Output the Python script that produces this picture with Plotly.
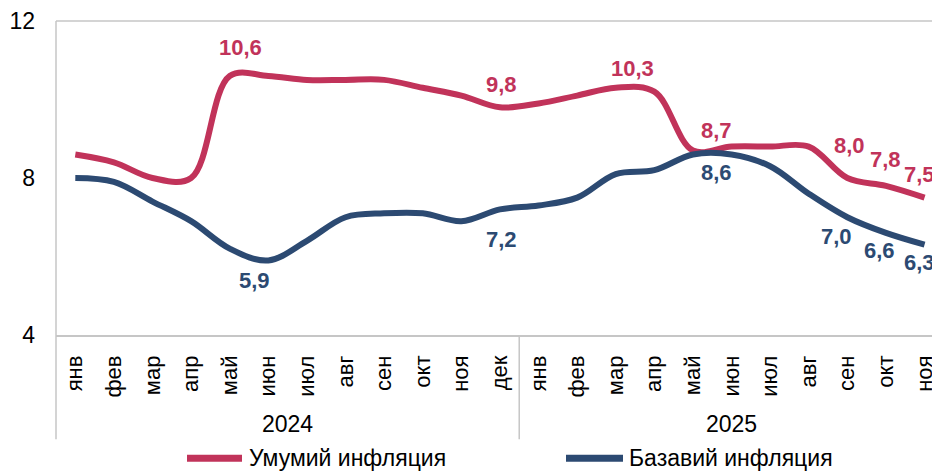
import plotly.graph_objects as go

months = ["янв", "фев", "мар", "апр", "май", "июн", "июл", "авг", "сен", "окт", "ноя", "дек",
          "янв", "фев", "мар", "апр", "май", "июн", "июл", "авг", "сен", "окт", "ноя"]
years = ["2024", "2025"]
year_spans = [(0, 11), (12, 22)]

headline = [8.6, 8.4, 8.0, 8.0, 10.6, 10.6, 10.5, 10.5, 10.5, 10.3, 10.1, 9.8,
            9.9, 10.1, 10.3, 10.2, 8.7, 8.8, 8.8, 8.8, 8.0, 7.8, 7.5]
core = [8.0, 7.9, 7.4, 6.9, 6.2, 5.9, 6.4, 7.0, 7.1, 7.1, 6.9, 7.2,
        7.3, 7.5, 8.1, 8.2, 8.6, 8.6, 8.3, 7.6, 7.0, 6.6, 6.3]

series_names = ["Умумий инфляция", "Базавий инфляция"]
colors = ["#C1335A", "#2C4A72"]

# labelled points: (index, xshift, yshift)
headline_labels = [(4, 11, 28), (11, 2, 23), (14, 17, 19), (16, 24, 20), (20, 2, 33), (21, 0, 26), (22, -5, 23)]
core_labels = [(5, -14, -20), (11, 2, -30), (16, 24, -18), (20, -11, -19), (21, -6, -18), (22, -5, -18)]

yticks = [4, 8, 12]

FONT = "Arial, Liberation Sans, sans-serif"
x = list(range(len(months)))
xr = [-0.5, 22.4]

# the page body adds an 8px offset; the figure is sized so the plot area lands at x 56..940, y 19..335
OFF = 8
W, H = 940 - OFF, 472 - OFF
L, T = 56 - OFF, 19 - OFF
PW, PH = 884.0, 316.0
B = H - T - int(PH)

fig = go.Figure()
for vals, name, col in [(headline, series_names[0], colors[0]), (core, series_names[1], colors[1])]:
    fig.add_trace(go.Scatter(x=x, y=vals, mode="lines", name=name,
                             line=dict(color=col, width=6, shape="spline", smoothing=1.0),
                             showlegend=False, hoverinfo="skip"))

annotations = []
for vals, labs, col in [(headline, headline_labels, colors[0]), (core, core_labels, colors[1])]:
    for i, dx, dy in labs:
        annotations.append(dict(x=i, y=vals[i], xref="x", yref="y", text=f"{vals[i]:.1f}".replace(".", ","),
                                showarrow=False, xshift=dx, yshift=dy,
                                font=dict(family=FONT, size=22, color=col, weight="bold")))

def px2x(p):
    return (p - 56) / PW
def py2y(p):
    return (335 - p) / PH

# year labels
for yr, (a, b) in zip(years, year_spans):
    annotations.append(dict(x=(a + b) / 2, y=py2y(425), xref="x", yref="paper", text=yr, showarrow=False,
                            yanchor="middle", font=dict(family=FONT, size=23, color="#000000")))

# manual legend
shapes = []
leg = [(187, 242, 247, series_names[0], colors[0]), (566, 623, 627, series_names[1], colors[1])]
ly = py2y(459)
for s0, s1, tx, name, col in leg:
    shapes.append(dict(type="line", xref="paper", yref="paper", x0=px2x(s0), x1=px2x(s1), y0=ly, y1=ly,
                       line=dict(color=col, width=7)))
    annotations.append(dict(x=px2x(tx), y=ly, xref="paper", yref="paper", text=name, showarrow=False,
                            xanchor="left", yanchor="middle", font=dict(family=FONT, size=23, color="#000000")))

grey = "#C6C6C6"
shapes.append(dict(type="line", xref="paper", yref="paper", x0=0, x1=1, y0=1, y1=1, line=dict(color=grey, width=1.5)))
shapes.append(dict(type="line", xref="paper", yref="paper", x0=0, x1=0, y0=1, y1=py2y(440), line=dict(color=grey, width=1.5)))
sep = (11.5 - xr[0]) / (xr[1] - xr[0])
shapes.append(dict(type="line", xref="paper", yref="paper", x0=sep, x1=sep, y0=0, y1=py2y(440), line=dict(color=grey, width=1.5)))

fig.update_layout(
    width=W, height=H,
    margin=dict(l=L, r=0, t=T, b=B, pad=0),
    paper_bgcolor="white", plot_bgcolor="white",
    showlegend=False,
    annotations=annotations,
    shapes=shapes,
    xaxis=dict(range=xr, tickmode="array", tickvals=x, ticktext=months, tickangle=-90,
               showgrid=False, zeroline=False, showline=True, linecolor=grey, linewidth=1.5,
               ticks="", ticklabelstandoff=10, ticklabeloverflow="allow",
               tickfont=dict(family=FONT, size=22, color="#000000")),
    yaxis=dict(range=[4, 12], tickmode="array", tickvals=yticks, ticktext=[str(v) for v in yticks],
               showgrid=False, zeroline=False, showline=False, ticks="", ticklabelstandoff=20,
               ticklabeloverflow="allow",
               tickfont=dict(family=FONT, size=23, color="#000000")),
)

fig.write_html("out.html")
